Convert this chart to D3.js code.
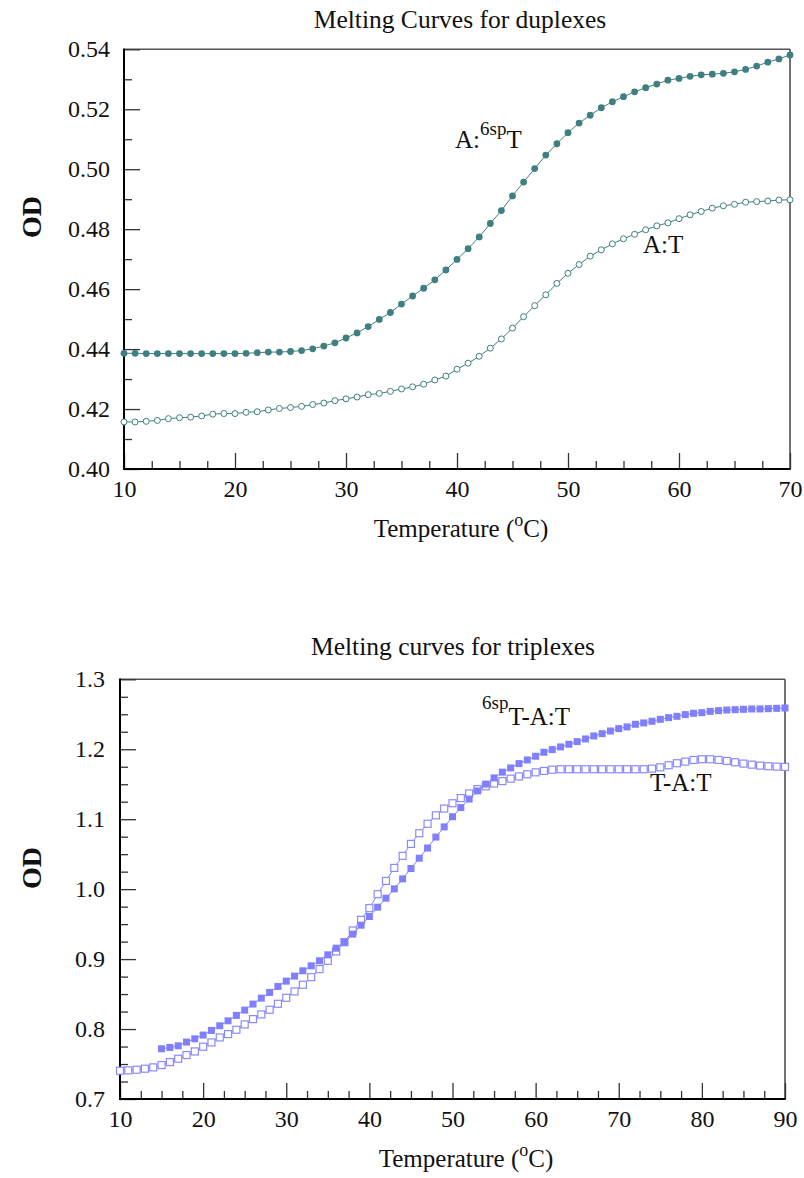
<!DOCTYPE html>
<html>
<head>
<meta charset="utf-8">
<script src="https://cdn.jsdelivr.net/npm/d3@7"></script>
<style>
  html, body { margin: 0; padding: 0; background: #fff; }
  svg text { font-family: "Liberation Serif", "Times New Roman", serif; fill: #111; }
</style>
</head>
<body>
<svg id="chart" width="804" height="1178"></svg>
<script>
// ---------- Duplex melting data (OD vs temperature, °C) ----------
const duplexTemps = [10,11,12,13,14,15,16,17,18,19,20,21,22,23,24,25,26,27,28,29,30,
  31,32,33,34,35,36,37,38,39,40,41,42,43,44,45,46,47,48,49,50,
  51,52,53,54,55,56,57,58,59,60,61,62,63,64,65,66,67,68,69,70];

const duplexSpT = [0.4386,0.4386,0.4385,0.4385,0.4385,0.4385,0.4385,0.4385,0.4385,0.4385,0.4385,
  0.4386,0.4388,0.4390,0.4390,0.4392,0.4395,0.4401,0.4410,0.4421,0.4437,
  0.4454,0.4475,0.4499,0.4522,0.4550,0.4577,0.4603,0.4631,0.4664,0.4699,
  0.4735,0.4774,0.4819,0.4862,0.4911,0.4957,0.5002,0.5047,0.5085,0.5122,
  0.5154,0.5180,0.5205,0.5225,0.5242,0.5258,0.5272,0.5284,0.5297,0.5303,
  0.5310,0.5315,0.5317,0.5320,0.5325,0.5333,0.5344,0.5357,0.5368,0.5381];

const duplexAT = [0.4157,0.4157,0.4159,0.4162,0.4168,0.4171,0.4173,0.4177,0.4183,0.4185,0.4185,
  0.4189,0.4191,0.4197,0.4202,0.4205,0.4209,0.4215,0.4220,0.4228,0.4234,
  0.4240,0.4248,0.4252,0.4259,0.4267,0.4274,0.4283,0.4297,0.4310,0.4333,
  0.4353,0.4376,0.4403,0.4434,0.4470,0.4508,0.4545,0.4581,0.4619,0.4653,
  0.4682,0.4710,0.4731,0.4751,0.4768,0.4783,0.4798,0.4811,0.4821,0.4835,
  0.4848,0.4859,0.4870,0.4878,0.4883,0.4890,0.4892,0.4894,0.4897,0.4898];

const duplexYTicks = [0.40,0.42,0.44,0.46,0.48,0.50,0.52,0.54];
const duplexYMinor = [0.41,0.43,0.45,0.47,0.49,0.51,0.53];
const duplexXTicks = [10,20,30,40,50,60,70];

// ---------- Triplex melting data ----------
const triplexTempsTAT = [10,11,12,13,14,15,16,17,18,19,20,21,22,23,24,25,26,27,28,29,30,
  31,32,33,34,35,36,37,38,39,40,41,42,43,44,45,46,47,48,49,50,
  51,52,53,54,55,56,57,58,59,60,61,62,63,64,65,66,67,68,69,70,
  71,72,73,74,75,76,77,78,79,80,81,82,83,84,85,86,87,88,89,90];

const triplexTAT = [0.7404,0.7409,0.7418,0.7433,0.7452,0.7485,0.7528,0.7576,0.7628,0.7680,0.7747,
  0.7809,0.7880,0.7928,0.7990,0.8066,0.8142,0.8209,0.8276,0.8361,0.8447,
  0.8538,0.8633,0.8742,0.8857,0.8976,0.9109,0.9242,0.9409,0.9561,0.9728,
  0.9928,1.0118,1.0304,1.0476,1.0647,1.0800,1.0935,1.1055,1.1152,1.1228,
  1.1302,1.1368,1.1430,1.1470,1.1510,1.1545,1.1580,1.1612,1.1642,1.1670,
  1.1690,1.1708,1.1714,1.1714,1.1714,1.1714,1.1714,1.1714,1.1714,1.1714,
  1.1714,1.1714,1.1714,1.1723,1.1742,1.1771,1.1800,1.1823,1.1847,1.1857,
  1.1857,1.1847,1.1833,1.1814,1.1795,1.1780,1.1766,1.1757,1.1752,1.1747];

const triplexTempsSpT = [15,16,17,18,19,20,21,22,23,24,25,26,27,28,29,30,
  31,32,33,34,35,36,37,38,39,40,41,42,43,44,45,46,47,48,49,50,
  51,52,53,54,55,56,57,58,59,60,61,62,63,64,65,66,67,68,69,70,
  71,72,73,74,75,76,77,78,79,80,81,82,83,84,85,86,87,88,89,90];

const triplexSpT = [0.7718,0.7737,0.7761,0.7814,0.7861,0.7914,
  0.7980,0.8047,0.8118,0.8195,0.8271,0.8357,0.8442,0.8523,0.8609,0.8685,
  0.8757,0.8833,0.8904,0.8976,0.9061,0.9156,0.9242,0.9357,0.9485,0.9609,
  0.9742,0.9871,1.0004,1.0147,1.0295,1.0442,1.0588,1.0745,1.0890,1.1035,
  1.1166,1.1288,1.1404,1.1502,1.1590,1.1673,1.1733,1.1795,1.1847,1.1900,
  1.1957,1.1995,1.2033,1.2071,1.2109,1.2147,1.2190,1.2223,1.2261,1.2295,
  1.2319,1.2357,1.2376,1.2400,1.2428,1.2452,1.2471,1.2495,1.2514,1.2523,
  1.2542,1.2552,1.2561,1.2566,1.2571,1.2576,1.2576,1.2580,1.2585,1.2590];

const triplexYTicks = [0.7,0.8,0.9,1.0,1.1,1.2,1.3];
const triplexYMinor = [0.725,0.75,0.775,0.825,0.85,0.875,0.925,0.95,0.975,
  1.025,1.05,1.075,1.125,1.15,1.175,1.225,1.25,1.275];
const triplexXTicks = [10,20,30,40,50,60,70,80,90];

const teal = "#3f7f7f";
const blue = "#7f7fff";

const svg = d3.select("#chart");

// Draws the framed panel with inward ticks and returns its scales
function panel(opts) {
  const x = d3.scaleLinear().domain(opts.xDomain).range([opts.left, opts.right]);
  const y = d3.scaleLinear().domain(opts.yDomain).range([opts.bottom, opts.top]);
  const g = svg.append("g");

  // frame: top/right thin grey, left/bottom heavy black
  g.append("line").attr("x1", opts.left).attr("x2", opts.right)
    .attr("y1", opts.top).attr("y2", opts.top).attr("stroke", "#555").attr("stroke-width", 1.5);
  g.append("line").attr("x1", opts.right).attr("x2", opts.right)
    .attr("y1", opts.top).attr("y2", opts.bottom).attr("stroke", "#444").attr("stroke-width", 1.5);

  const styleAxis = sel => {
    sel.select(".domain").remove();
    sel.selectAll(".tick line").attr("stroke", "#333").attr("stroke-width", 1.3);
    sel.selectAll(".tick text").attr("font-size", 24)
      .attr("font-family", "'Liberation Serif','Times New Roman',serif").attr("fill", "#111");
  };

  // y axis majors with labels, minors without
  g.append("g").attr("transform", `translate(${opts.left},0)`)
    .call(d3.axisLeft(y).tickValues(opts.yTicks).tickSize(-16).tickPadding(opts.yPad)
      .tickFormat(d3.format(opts.yFormat)))
    .call(styleAxis);
  g.append("g").attr("transform", `translate(${opts.left},0)`)
    .call(d3.axisLeft(y).tickValues(opts.yMinor).tickSize(-8).tickFormat(""))
    .call(styleAxis);

  // x axis majors with labels, minors every 2.5 degrees
  const xMinor = [];
  opts.xTicks.slice(0, -1).forEach(t => { xMinor.push(t + 2.5, t + 5, t + 7.5); });
  g.append("g").attr("transform", `translate(0,${opts.bottom})`)
    .call(d3.axisBottom(x).tickValues(opts.xTicks).tickSize(-16).tickPadding(11)
      .tickFormat(d3.format("d")))
    .call(styleAxis);
  g.append("g").attr("transform", `translate(0,${opts.bottom})`)
    .call(d3.axisBottom(x).tickValues(xMinor).tickSize(-8).tickFormat(""))
    .call(styleAxis);

  g.append("line").attr("x1", opts.left).attr("x2", opts.left)
    .attr("y1", opts.top - 0.7).attr("y2", opts.bottom + 1).attr("stroke", "#000").attr("stroke-width", 2);
  g.append("line").attr("x1", opts.left - 1).attr("x2", opts.right + 0.7)
    .attr("y1", opts.bottom).attr("y2", opts.bottom).attr("stroke", "#000").attr("stroke-width", 2);

  // title
  svg.append("text").attr("x", opts.titleX).attr("y", opts.titleY)
    .attr("text-anchor", "middle").attr("font-size", 25.5).text(opts.title);

  // x axis title with superscript degree mark
  const xt = svg.append("text").attr("x", opts.xLabelX).attr("y", opts.bottom + 68)
    .attr("text-anchor", "middle").attr("font-size", 25);
  xt.append("tspan").text("Temperature (");
  xt.append("tspan").attr("font-size", 18).attr("dy", -11).text("o");
  xt.append("tspan").attr("dy", 11).text("C)");

  // y axis title
  svg.append("text").attr("transform", `translate(41,${opts.odY}) rotate(-90)`)
    .attr("text-anchor", "middle").attr("font-size", 28).attr("font-weight", "bold").text("OD");

  return { x, y };
}

// ----- Duplex panel -----
const duplexPanel = panel({
  left: 124, right: 790, top: 49.3, bottom: 469,
  xDomain: [10, 70], yDomain: [0.40, 0.54],
  yTicks: duplexYTicks, yMinor: duplexYMinor, xTicks: duplexXTicks,
  yFormat: ".2f", yPad: 14,
  title: "Melting Curves for duplexes", titleX: 460, titleY: 28,
  xLabelX: 461, odY: 217
});

const lineDuplex = d3.line().x(d => duplexPanel.x(d[0])).y(d => duplexPanel.y(d[1]));
const atPts = duplexTemps.map((t, i) => [t, duplexAT[i]]);
const spPts = duplexTemps.map((t, i) => [t, duplexSpT[i]]);

svg.append("path").datum(atPts).attr("d", lineDuplex)
  .attr("fill", "none").attr("stroke", teal).attr("stroke-width", 1);
svg.append("g").selectAll("circle").data(atPts).join("circle")
  .attr("cx", d => duplexPanel.x(d[0])).attr("cy", d => duplexPanel.y(d[1])).attr("r", 3)
  .attr("fill", "#fff").attr("stroke", teal).attr("stroke-width", 1);

svg.append("path").datum(spPts).attr("d", lineDuplex)
  .attr("fill", "none").attr("stroke", teal).attr("stroke-width", 1);
svg.append("g").selectAll("circle").data(spPts).join("circle")
  .attr("cx", d => duplexPanel.x(d[0])).attr("cy", d => duplexPanel.y(d[1])).attr("r", 3.4)
  .attr("fill", teal);

const lab1 = svg.append("text").attr("x", 455).attr("y", 148).attr("font-size", 25);
lab1.append("tspan").text("A:");
lab1.append("tspan").attr("font-size", 19).attr("dy", -13).text("6sp");
lab1.append("tspan").attr("dy", 13).text("T");
svg.append("text").attr("x", 643).attr("y", 253).attr("font-size", 25).text("A:T");

// ----- Triplex panel -----
const triplexPanel = panel({
  left: 120, right: 785, top: 679.3, bottom: 1099,
  xDomain: [10, 90], yDomain: [0.7, 1.3],
  yTicks: triplexYTicks, yMinor: triplexYMinor, xTicks: triplexXTicks,
  yFormat: ".1f", yPad: 15,
  title: "Melting curves for triplexes", titleX: 453, titleY: 655,
  xLabelX: 466, odY: 868
});

const lineTriplex = d3.line().x(d => triplexPanel.x(d[0])).y(d => triplexPanel.y(d[1]));
const tatPts = triplexTempsTAT.map((t, i) => [t, triplexTAT[i]]);
const sptPts = triplexTempsSpT.map((t, i) => [t, triplexSpT[i]]);
const sq = 7;

svg.append("path").datum(tatPts).attr("d", lineTriplex)
  .attr("fill", "none").attr("stroke", blue).attr("stroke-width", 1);
svg.append("g").selectAll("rect").data(tatPts).join("rect")
  .attr("x", d => triplexPanel.x(d[0]) - sq / 2).attr("y", d => triplexPanel.y(d[1]) - sq / 2)
  .attr("width", sq).attr("height", sq)
  .attr("fill", "#fff").attr("stroke", "#8a8aff").attr("stroke-width", 1.2);

svg.append("path").datum(sptPts).attr("d", lineTriplex)
  .attr("fill", "none").attr("stroke", blue).attr("stroke-width", 1);
svg.append("g").selectAll("rect").data(sptPts).join("rect")
  .attr("x", d => triplexPanel.x(d[0]) - sq / 2).attr("y", d => triplexPanel.y(d[1]) - sq / 2)
  .attr("width", sq).attr("height", sq).attr("fill", blue);

const lab3 = svg.append("text").attr("x", 482).attr("y", 725).attr("font-size", 25);
lab3.append("tspan").attr("font-size", 19).attr("dy", -16).text("6sp");
lab3.append("tspan").attr("dy", 16).text("T-A:T");
svg.append("text").attr("x", 650).attr("y", 791).attr("font-size", 25).text("T-A:T");
</script>
</body>
</html>
